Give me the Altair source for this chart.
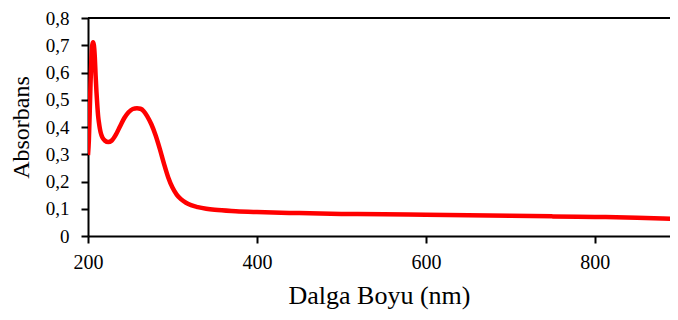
import altair as alt
import pandas as pd

wavelength = [200, 201, 202, 203, 204, 205, 206, 207, 208, 209, 210, 211, 212, 213, 214, 215,
              217, 220, 224, 228, 233, 238, 243, 248, 253, 258, 262, 266, 270, 275, 280,
              285, 290, 295, 300, 305, 310, 316, 322, 330, 340, 350, 375, 400, 450, 500,
              550, 600, 650, 700, 750, 800, 850, 880, 900]
absorbance = [0.297, 0.35, 0.45, 0.56, 0.65, 0.70, 0.711, 0.70, 0.66, 0.59, 0.53, 0.48, 0.44,
              0.415, 0.395, 0.38, 0.362, 0.35, 0.345, 0.35, 0.372, 0.403, 0.433, 0.454, 0.466,
              0.469, 0.467, 0.458, 0.44, 0.41, 0.37, 0.32, 0.265, 0.215, 0.178, 0.152, 0.135,
              0.122, 0.113, 0.106, 0.1, 0.096, 0.091, 0.088, 0.084, 0.081, 0.080, 0.078, 0.076,
              0.074, 0.072, 0.070, 0.067, 0.064, 0.062]

x_ticks = [200, 400, 600, 800]
y_ticks = [0, 0.1, 0.2, 0.3, 0.4, 0.5, 0.6, 0.7, 0.8]
x_domain = [200, 889]
y_domain = [0, 0.8]

df = pd.DataFrame({"wl": wavelength, "abs": absorbance})

FONT = "Liberation Serif"

y_scale = alt.Scale(domain=y_domain, nice=False)
y_axis = alt.Axis(title="Absorbans", values=y_ticks,
                  labelExpr="datum.value == 0 ? '0' : replace(format(datum.value, '.1f'), '.', ',')",
                  titleFontSize=24, titleFontWeight="normal", titlePadding=12,
                  labelFontSize=19, labelPadding=12, tickSize=7,
                  labelOverlap=False, labelFlush=False, tickCount=9)

line = alt.Chart(df).mark_line(
    color="#ff0000", strokeWidth=4.5, interpolate="monotone", clip=True
).encode(
    x=alt.X("wl:Q", scale=alt.Scale(domain=x_domain, nice=False, zero=False),
            axis=alt.Axis(title="Dalga Boyu (nm)", values=x_ticks, format="d",
                          titleFontSize=26, titleFontWeight="normal", titlePadding=10,
                          labelFontSize=20, labelPadding=9, tickSize=7,
                          labelOverlap=False, labelFlush=False)),
    y=alt.Y("abs:Q", scale=y_scale, axis=y_axis),
)

top_border = alt.Chart(df).mark_rule(color="black", strokeWidth=2).encode(
    y=alt.YDatum(y_domain[1], scale=y_scale, axis=y_axis)
)

chart = alt.layer(line, top_border).properties(
    width=582, height=218,
    autosize=alt.AutoSizeParams(type="none"),
    padding={"left": 80, "top": 10, "right": 0, "bottom": 84},
).configure_axis(
    grid=False, domainColor="black", domainWidth=2, tickColor="black", tickWidth=2,
    labelColor="black", titleColor="black", labelFont=FONT, titleFont=FONT,
    labelOverlap=False,
).configure_view(
    stroke=None,
)

chart.save("out.html", embed_options={"renderer": "svg", "actions": False})
